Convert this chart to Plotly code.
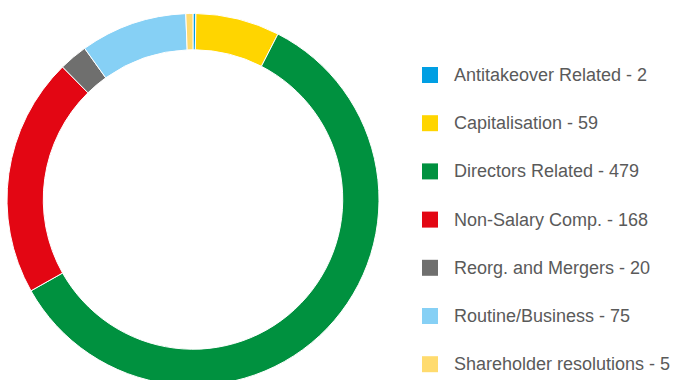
import plotly.graph_objects as go

# Proposal categories and counts
categories = [
    "Antitakeover Related",
    "Capitalisation",
    "Directors Related",
    "Non-Salary Comp.",
    "Reorg. and Mergers",
    "Routine/Business",
    "Shareholder resolutions",
]
counts = [2, 59, 479, 168, 20, 75, 5]
colors = ["#009FE3", "#FFD500", "#00913F", "#E30613", "#6F6F6E", "#86D0F5", "#FFDB6E"]

W, H = 678, 392  # canvas slightly taller than the view so the ring runs off the bottom


def px_x(x):
    return x / W


def px_y(y):
    return 1 - y / H


# Ring geometry in pixels
cx, cy, r = 193, 199.5, 186

fig = go.Figure(
    go.Pie(
        labels=categories,
        values=counts,
        marker=dict(colors=colors, line=dict(color="white", width=1)),
        hole=0.805,
        sort=False,
        direction="clockwise",
        rotation=0,
        textinfo="none",
        hoverinfo="label+value",
        domain=dict(x=[px_x(cx - r), px_x(cx + r)], y=[px_y(cy + r), px_y(cy - r)]),
        showlegend=False,
    )
)

# Custom legend: square swatch + "label - count"
shapes, annotations = [], []
top, step, sw = 75, 48.2, 16
for i, (lab, val, col) in enumerate(zip(categories, counts, colors)):
    yc = top + i * step
    shapes.append(dict(
        type="rect", xref="paper", yref="paper",
        x0=px_x(422), x1=px_x(422 + sw), y0=px_y(yc - sw / 2), y1=px_y(yc + sw / 2),
        fillcolor=col, line=dict(width=0),
    ))
    annotations.append(dict(
        xref="paper", yref="paper", x=px_x(452), y=px_y(yc),
        xanchor="left", yanchor="middle", showarrow=False,
        text=f"{lab} - {val}",
        font=dict(family="Liberation Sans, Arial, sans-serif", size=18, color="#5A5A5A"),
    ))

fig.update_layout(
    width=W, height=H,
    margin=dict(l=0, r=0, t=0, b=0),
    paper_bgcolor="white",
    plot_bgcolor="white",
    shapes=shapes,
    annotations=annotations,
)

fig.write_html(
    "out.html",
    post_script="document.documentElement.style.overflow='hidden';document.body.style.overflow='hidden';document.body.style.margin='0';",
)
